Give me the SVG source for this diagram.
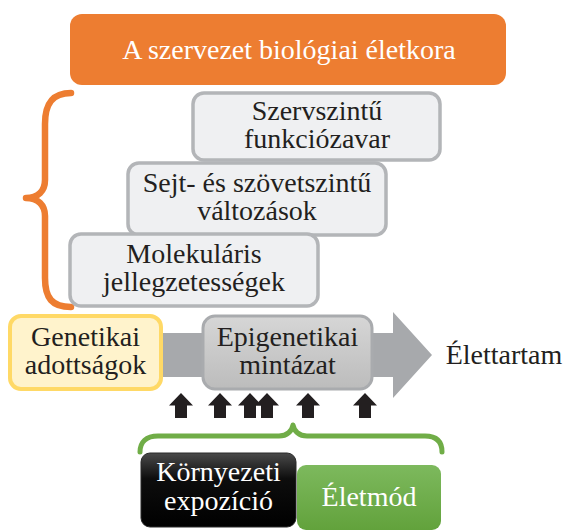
<svg xmlns="http://www.w3.org/2000/svg" width="566" height="531" viewBox="0 0 566 531">
<defs>
<style>
text{font-family:"Liberation Serif","Times New Roman",serif;font-size:28px;text-anchor:middle;fill:#231f20}
.wt{fill:#ffffff}
.lvl{fill:#eff0f2;stroke:#b3b5b8;stroke-width:3.5}
.brace{fill:none;stroke-linecap:round;stroke-linejoin:round}
</style>
<linearGradient id="gEpi" x1="0" y1="0" x2="0" y2="1">
<stop offset="0" stop-color="#d6d6d6"/><stop offset="1" stop-color="#bcbcbc"/>
</linearGradient>
<linearGradient id="gBlack" x1="0" y1="0" x2="0" y2="1">
<stop offset="0" stop-color="#4a4a4a"/><stop offset="0.35" stop-color="#0d0d0d"/><stop offset="1" stop-color="#000000"/>
</linearGradient>
<linearGradient id="gGreen" x1="0" y1="0" x2="0" y2="1">
<stop offset="0" stop-color="#7db95d"/><stop offset="1" stop-color="#62a23c"/>
</linearGradient>
<path id="up" d="M0,-12.5 L12,0 L6,0 L6,12.5 L-6,12.5 L-6,0 L-12,0 Z" fill="#231f20"/>
</defs>

<g id="connectors">
<path id="orange-brace" class="brace" stroke="#ed7d31" stroke-width="6.5" d="M71,93 C52,93 45,104 45,124 L45,180 C45,191 38,198 26,198 C38,198 45,205 45,216 L45,278 C45,298 52,307 71,307"/>
<path id="green-brace" class="brace" stroke="#70ad47" stroke-width="5" d="M140,452 C140,442 146,436 158,436 L279,436 C287,436 292,431 293,425 C294,431 299,436 307,436 L425,436 C437,436 442,442 442,452"/>
<polygon id="lifespan-arrow" fill="#a7a9ac" points="150,333 393,333 393,312 432,355 393,398 393,377 150,377"/>
<use href="#up" x="181" y="405.5"/>
<use href="#up" x="220" y="405.5"/>
<use href="#up" x="250" y="405.5"/>
<use href="#up" x="267" y="405.5"/>
<use href="#up" x="308" y="405.5"/>
<use href="#up" x="365" y="405.5"/>
</g>

<g id="bio-age">
<rect x="70" y="14" width="436" height="71" rx="12" fill="#ed7d31"/>
<text class="wt" x="289" y="59">A szervezet biológiai életkora</text>
</g>

<g id="organ">
<rect class="lvl" x="193" y="93" width="247" height="67" rx="11"/>
<text x="317" y="120">Szervszintű</text>
<text x="317" y="148">funkciózavar</text>
</g>

<g id="cell">
<rect class="lvl" x="128" y="163" width="258" height="72" rx="11"/>
<text x="257" y="192">Sejt- és szövetszintű</text>
<text x="257" y="220">változások</text>
</g>

<g id="molecular">
<rect class="lvl" x="70" y="234" width="248" height="72" rx="11"/>
<text x="194" y="263">Molekuláris</text>
<text x="194" y="291">jellegzetességek</text>
</g>

<g id="genetic">
<rect x="10" y="316" width="151" height="73" rx="11" fill="#fff3cc" stroke="#ffd966" stroke-width="4"/>
<text x="85.5" y="346">Genetikai</text>
<text x="85.5" y="374">adottságok</text>
</g>

<g id="epigenetic">
<rect x="203" y="316" width="169" height="73" rx="12" fill="url(#gEpi)" stroke="#a9abae" stroke-width="3"/>
<text x="287.5" y="346">Epigenetikai</text>
<text x="287.5" y="374">mintázat</text>
</g>

<g id="lifespan">
<text x="504" y="364">Élettartam</text>
</g>

<g id="environment">
<rect x="141" y="453" width="155" height="74" rx="9" fill="url(#gBlack)" stroke="#2a2a2a" stroke-width="1"/>
<text class="wt" x="218.5" y="481">Környezeti</text>
<text class="wt" x="218.5" y="510">expozíció</text>
</g>

<g id="lifestyle">
<rect x="297" y="465" width="144" height="65" rx="9" fill="url(#gGreen)"/>
<text class="wt" x="369" y="506">Életmód</text>
</g>
</svg>
